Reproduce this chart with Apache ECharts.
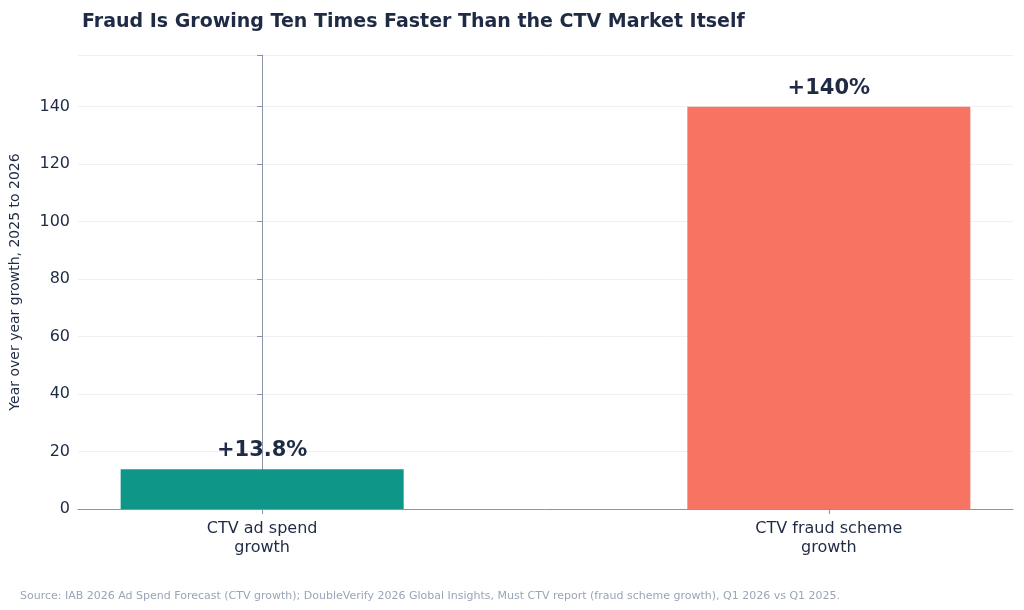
<!DOCTYPE html>
<html>
<head>
<meta charset="utf-8">
<script src="https://cdn.jsdelivr.net/npm/echarts@6/dist/echarts.min.js"></script>
<style>body{margin:0}#main{width:1024px;height:610px}</style>
</head>
<body>
<div id="main"></div>
<script>
var categories = ['CTV ad spend\ngrowth', 'CTV fraud scheme\ngrowth'];
var values = [13.8, 140];
var labels = ['+13.8%', '+140%'];
var colors = ['#0e9688', '#f77462'];

var chart = echarts.init(document.getElementById('main'));
var ink = '#1f2a44';
chart.setOption({
  textStyle: {fontFamily: 'DejaVu Sans'},
  title: [{
    text: 'Fraud Is Growing Ten Times Faster Than the CTV Market Itself',
    left: 77, top: 8,
    textStyle: {fontSize: 19, fontWeight: 'bold', color: ink, fontFamily: 'DejaVu Sans'}
  }, {
    text: 'Source: IAB 2026 Ad Spend Forecast (CTV growth); DoubleVerify 2026 Global Insights, Must CTV report (fraud scheme growth), Q1 2026 vs Q1 2025.',
    left: 15, top: 586,
    textStyle: {fontSize: 11, fontWeight: 'normal', color: '#9aa5b8', fontFamily: 'DejaVu Sans'}
  }],
  grid: {left: 77, right: 11, top: 55, bottom: 101},
  xAxis: {
    type: 'value', min: -0.325, max: 1.325,
    splitLine: {show: false},
    axisLine: {show: true, lineStyle: {color: '#8a94a6'}},
    axisTick: {show: true, customValues: [0, 1], lineStyle: {color: '#8a94a6'}},
    axisLabel: {customValues: [0, 1], formatter: function (v) { return categories[Math.round(v)]; },
      fontSize: 16, color: ink, lineHeight: 19, margin: 10}
  },
  yAxis: {
    type: 'value', min: 0, max: 158, interval: 20,
    name: 'Year over year growth, 2025 to 2026',
    nameLocation: 'middle', nameGap: 56,
    nameTextStyle: {fontSize: 14, color: ink},
    axisLine: {show: true, lineStyle: {color: '#8a94a6'}},
    axisTick: {show: true, lineStyle: {color: '#8a94a6'}},
    axisLabel: {fontSize: 16, color: ink, formatter: function (v) { return v % 20 === 0 ? v : ''; }},
    splitLine: {lineStyle: {color: '#eef0f3'}}
  },
  series: [{
    type: 'bar', barWidth: 283,
    data: values.map(function (v, i) {
      return {value: [i, v], itemStyle: {color: colors[i]},
        label: {show: true, position: 'top', formatter: labels[i], distance: 8,
          fontSize: 21, fontWeight: 'bold', color: ink}};
    })
  }]
});
</script>
</body>
</html>
